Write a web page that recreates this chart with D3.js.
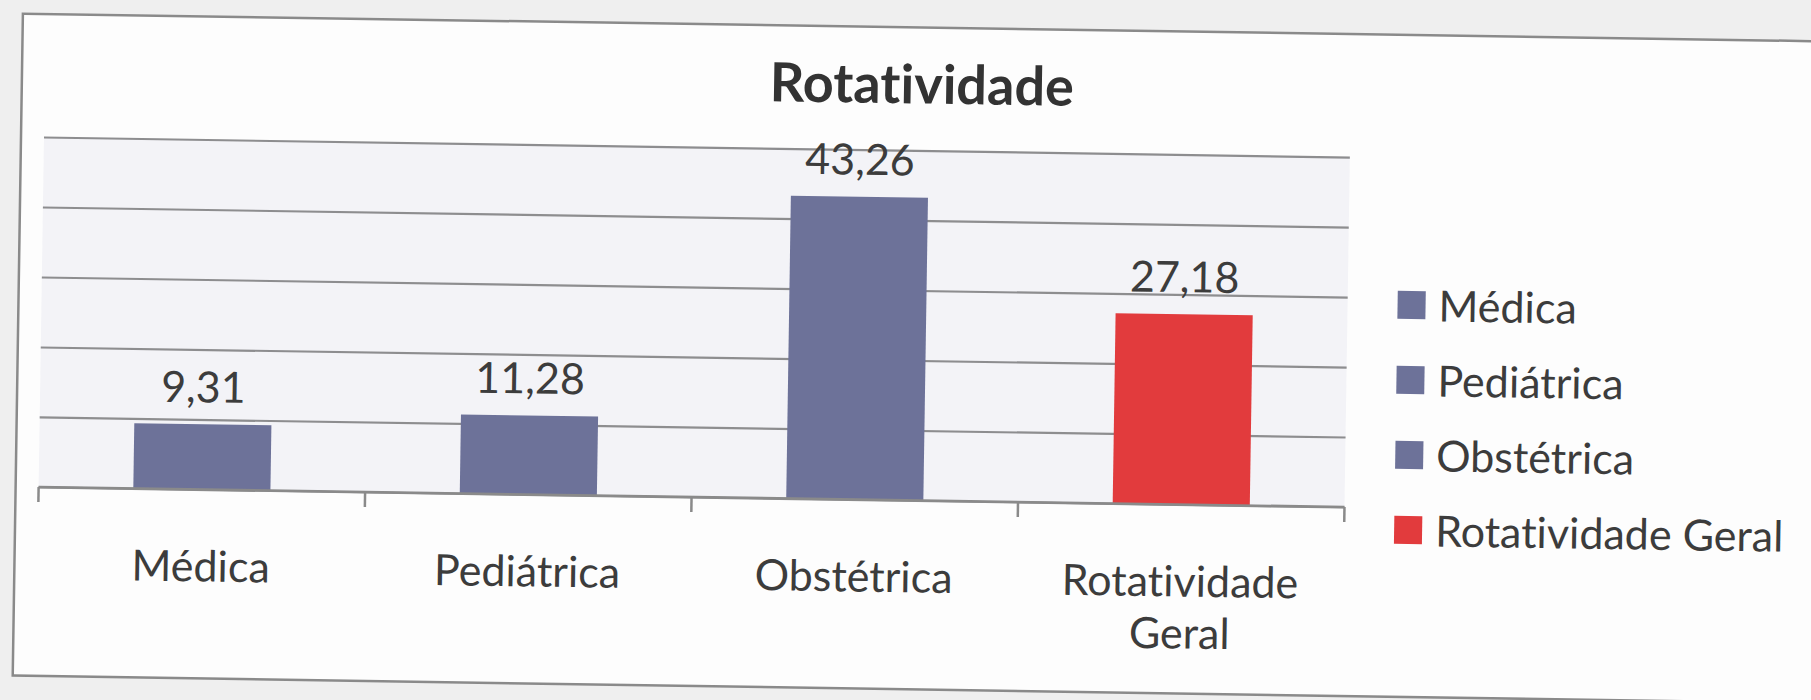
<!DOCTYPE html>
<html>
<head>
<meta charset="utf-8">
<script src="https://cdn.jsdelivr.net/npm/d3@7"></script>
<style>
  body { margin: 0; background: #efefef; overflow: hidden; }
  svg { display: block; }
  text { font-variant-ligatures: none; }
</style>
</head>
<body>
<div id="chart"></div>
<script>
// chart data
const categories = ["Médica", "Pediátrica", "Obstétrica", "Rotatividade Geral"];
const values = [9.31, 11.28, 43.26, 27.18];
const yTicks = [0, 10, 20, 30, 40, 50];
const chartTitle = "Rotatividade";

const barColors = ["#6d7299", "#6d7299", "#6d7299", "#e23b3d"];
const textColor = "#3c3c3c";
const fontFamily = "Lato, 'Open Sans', sans-serif";

const width = 1811, height = 700;
// the scan is slightly tilted, so everything is drawn straight then rotated
const tilt = 0.88;
const plot = {left: 44, top: 137, right: 1350, bottom: 487};

const ptFormat = d3.formatLocale({decimal: ",", thousands: ".", grouping: [3], currency: ["R$", ""]}).format(".2f");

const svg = d3.select("#chart")
    .append("svg")
    .attr("width", width)
    .attr("height", height);

const g = svg.append("g")
    .attr("transform", `rotate(${tilt}, ${plot.left}, ${plot.top})`);

// outer chart frame (right side runs off the page)
g.append("rect")
    .attr("x", 21)
    .attr("y", 14)
    .attr("width", 1900)
    .attr("height", 662)
    .attr("fill", "#fdfdfd")
    .attr("stroke", "#8a8a8a")
    .attr("stroke-width", 2.5);

// plot background
g.append("rect")
    .attr("x", plot.left)
    .attr("y", plot.top)
    .attr("width", plot.right - plot.left)
    .attr("height", plot.bottom - plot.top)
    .attr("fill", "#f3f3f7");

var x = d3.scaleBand()
    .domain(categories)
    .range([plot.left, plot.right])
    .paddingInner(0.58)
    .paddingOuter(0.29);

var y = d3.scaleLinear()
    .domain([0, 50])
    .range([plot.bottom, plot.top]);

var color = d3.scaleOrdinal()
    .domain(categories)
    .range(barColors);

// gridlines
g.append("g")
    .attr("transform", `translate(${plot.left}, 0)`)
    .call(d3.axisLeft(y).tickValues(yTicks).tickSize(-(plot.right - plot.left)).tickFormat(""))
    .call(a => a.select(".domain").remove())
    .selectAll("line")
    .attr("stroke", "#8d8d8f")
    .attr("stroke-width", 2.2);

// bars
g.selectAll(".bar")
    .data(values)
    .enter()
    .append("rect")
    .attr("class", "bar")
    .attr("x", function(d, i) { return x(categories[i]) })
    .attr("y", function(d) { return y(d) })
    .attr("width", x.bandwidth())
    .attr("height", function(d) { return y(0) - y(d) })
    .attr("fill", function(d, i) { return color(categories[i]) });

// value labels
g.selectAll(".val")
    .data(values)
    .enter()
    .append("text")
    .attr("class", "val")
    .attr("x", function(d, i) { return x(categories[i]) + x.bandwidth() / 2 })
    .attr("y", function(d) { return y(d) - 22 })
    .attr("text-anchor", "middle")
    .style("font-family", fontFamily)
    .style("font-size", "43px")
    .style("fill", textColor)
    .text(d => ptFormat(d));

// x axis with ticks at category boundaries
var boundaries = d3.range(categories.length + 1).map(i => x.range()[0] + i * x.step());
g.append("line")
    .attr("x1", plot.left)
    .attr("x2", plot.right)
    .attr("y1", y(0))
    .attr("y2", y(0))
    .attr("stroke", "#8a8a8a")
    .attr("stroke-width", 2.5);

g.selectAll(".tick-mark")
    .data(boundaries)
    .enter()
    .append("line")
    .attr("class", "tick-mark")
    .attr("x1", d => d)
    .attr("x2", d => d)
    .attr("y1", y(0))
    .attr("y2", y(0) + 15)
    .attr("stroke", "#8a8a8a")
    .attr("stroke-width", 2.5);

// category labels, wrapped when too wide for the slot
var catLabels = g.selectAll(".cat")
    .data(categories)
    .enter()
    .append("text")
    .attr("class", "cat")
    .attr("x", d => x(d) + x.bandwidth() / 2)
    .attr("y", y(0) + 92)
    .attr("text-anchor", "middle")
    .style("font-family", fontFamily)
    .style("font-size", "43px")
    .style("fill", textColor)
    .text(d => d);

catLabels.each(function(d) {
    var t = d3.select(this);
    if (this.getComputedTextLength() < x.step() - 20) return;
    var words = d.split(" ");
    var cx = t.attr("x");
    t.text(null);
    words.forEach(function(w, i) {
        t.append("tspan")
            .attr("x", cx)
            .attr("dy", i === 0 ? 0 : 52)
            .text(w);
    });
});

// title
g.append("text")
    .attr("x", 921)
    .attr("y", 90)
    .attr("text-anchor", "middle")
    .style("font-family", fontFamily)
    .style("font-size", "54px")
    .style("font-weight", "bold")
    .style("fill", "#333")
    .text(chartTitle);

// legend
var legend = g.selectAll(".legend")
    .data(categories)
    .enter()
    .append("g")
    .attr("class", "legend")
    .attr("transform", (d, i) => `translate(1400, ${284 + i * 75})`);

legend.append("rect")
    .attr("x", 0)
    .attr("y", -14)
    .attr("width", 28)
    .attr("height", 28)
    .attr("fill", d => color(d));

legend.append("text")
    .attr("x", 41)
    .attr("y", 16)
    .style("font-family", fontFamily)
    .style("font-size", "43px")
    .style("fill", textColor)
    .text(d => d);
</script>
</body>
</html>
